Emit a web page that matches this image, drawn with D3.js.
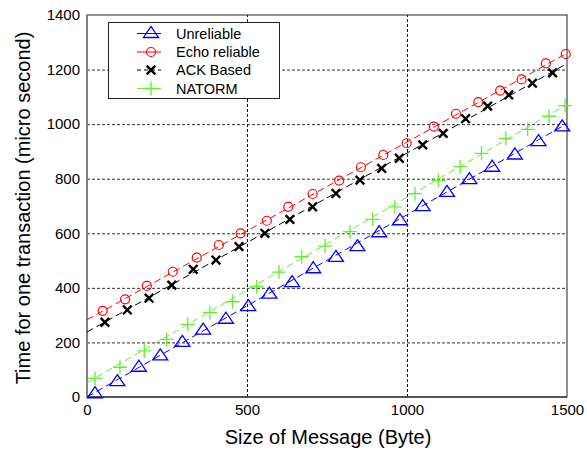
<!DOCTYPE html>
<html>
<head>
<meta charset="utf-8">
<script src="https://cdn.jsdelivr.net/npm/d3@7"></script>
<style>
  html, body { margin: 0; padding: 0; background: #fff; }
  svg { display: block; }
  text { font-family: "Liberation Sans", Arial, sans-serif; fill: #000; }
</style>
</head>
<body>
<svg id="chart" width="587" height="450"></svg>
<script>
// ---- data ----
const xTicks = [0, 500, 1000, 1500];
const yTicks = [0, 200, 400, 600, 800, 1000, 1200, 1400];
const seriesNames = ["Unreliable", "Echo reliable", "ACK Based", "NATORM"];

// Unreliable (blue triangles)
const unreliableX = [25, 95, 162, 229, 298, 363, 434, 504, 570, 641, 707, 778, 845, 913, 978, 1049, 1125, 1195, 1266, 1337, 1411, 1485];
const unreliableY = [12, 56, 109, 151, 200, 245, 285, 331, 377, 419, 470, 512, 551, 602, 646, 698, 750, 797, 842, 887, 936, 990];
// Echo reliable (red circles)
const echoX = [49, 119, 187, 268, 343, 412, 480, 562, 629, 705, 788, 856, 926, 999, 1084, 1153, 1223, 1291, 1358, 1434, 1496];
const echoY = [316, 358, 407, 459, 511, 557, 600, 646, 697, 744, 793, 842, 887, 930, 991, 1038, 1081, 1123, 1164, 1223, 1257];
// ACK Based (black crosses)
const ackX = [56, 126, 194, 265, 332, 403, 475, 556, 634, 705, 778, 853, 921, 976, 1049, 1113, 1183, 1252, 1318, 1392, 1455];
const ackY = [274, 319, 362, 410, 468, 502, 551, 600, 651, 697, 746, 795, 838, 875, 924, 966, 1020, 1066, 1107, 1150, 1188];
// NATORM (green pluses)
const natormX = [25, 103, 179, 249, 315, 384, 455, 530, 600, 671, 744, 822, 893, 962, 1025, 1098, 1166, 1233, 1309, 1377, 1444, 1494];
const natormY = [68, 109, 169, 211, 266, 309, 349, 404, 458, 514, 553, 606, 651, 697, 745, 793, 844, 893, 948, 981, 1029, 1068];

// trend lines (value at x = 0 and x = 1500)
const lineX = [0, 1500];
const unreliableLine = [0, 1002];
const echoLine = [283, 1260];
const ackLine = [238, 1222];
const natormLine = [52, 1072];

// ---- drawing ----
const svg = d3.select("#chart");
svg.append("rect").attr("width", 587).attr("height", 450).attr("fill", "#fff");

const x = d3.scaleLinear().domain([0, 1500]).range([87, 567]);
const y = d3.scaleLinear().domain([0, 1400]).range([397, 15]);

const colors = { blue: "#0000ff", red: "#ff0000", black: "#000000", green: "#66ee33" };

// grid
const gridH = svg.append("g").attr("transform", `translate(${x(0)},0)`)
  .call(d3.axisLeft(y).tickValues(yTicks.filter(v => v > 0 && v < 1400)).tickSize(-(x(1500) - x(0))).tickFormat(""));
gridH.select(".domain").remove();
gridH.selectAll("line").attr("stroke", "#333").attr("stroke-dasharray", "3,2").attr("stroke-width", 1);

const gridV = svg.append("g").attr("transform", `translate(0,${y(0)})`)
  .call(d3.axisBottom(x).tickValues(xTicks.filter(v => v > 0 && v < 1500)).tickSize(-(y(0) - y(1400))).tickFormat(""));
gridV.select(".domain").remove();
gridV.selectAll("line").attr("stroke", "#111").attr("stroke-dasharray", "3,2").attr("stroke-width", 1);

// frame
svg.append("rect")
  .attr("x", x(0)).attr("y", y(1400))
  .attr("width", x(1500) - x(0)).attr("height", y(0) - y(1400))
  .attr("fill", "none").attr("stroke", "#222").attr("stroke-width", 1);
svg.append("line").attr("x1", x(0)).attr("x2", x(0)).attr("y1", y(1400)).attr("y2", y(0))
  .attr("stroke", "#808080").attr("stroke-width", 2);
svg.append("line").attr("x1", x(0)).attr("x2", x(1500)).attr("y1", y(0)).attr("y2", y(0))
  .attr("stroke", "#444").attr("stroke-width", 1.5);

// axes labels
const axL = svg.append("g").attr("transform", `translate(${x(0)},0)`)
  .call(d3.axisLeft(y).tickValues(yTicks).tickSize(0).tickPadding(7).tickFormat(d3.format("d")));
axL.select(".domain").remove();
axL.selectAll("text").style("font-size", "15px").style("font-family", "Liberation Sans, Arial, sans-serif");

const axB = svg.append("g").attr("transform", `translate(0,${y(0)})`)
  .call(d3.axisBottom(x).tickValues(xTicks).tickSize(0).tickPadding(7).tickFormat(d3.format("d")));
axB.select(".domain").remove();
axB.selectAll("text").style("font-size", "15px").style("font-family", "Liberation Sans, Arial, sans-serif");

svg.append("text").attr("x", 328).attr("y", 444).attr("text-anchor", "middle")
  .style("font-size", "20px").text("Size of Message (Byte)");
svg.append("text").attr("transform", "translate(30,208) rotate(-90)").attr("text-anchor", "middle")
  .style("font-size", "20px").text("Time for one transaction (micro second)");

// markers
function triPath(cx, cy) {
  return `M${cx - 7.5},${cy + 4} L${cx + 7.5},${cy + 4} L${cx},${cy - 7} Z`;
}
function drawMarker(g, kind, cx, cy, color) {
  if (kind === "tri") {
    g.append("path").attr("d", triPath(cx, cy)).attr("fill", "none").attr("stroke", color).attr("stroke-width", 1.3);
  } else if (kind === "circ") {
    g.append("circle").attr("cx", cx).attr("cy", cy).attr("r", 4.5).attr("fill", "none").attr("stroke", color).attr("stroke-width", 1.2);
  } else if (kind === "x") {
    const s = 4.3;
    g.append("path").attr("d", `M${cx - s},${cy - s} L${cx + s},${cy + s} M${cx - s},${cy + s} L${cx + s},${cy - s}`)
      .attr("stroke", color).attr("stroke-width", 2.4).attr("fill", "none");
  } else if (kind === "plus") {
    const s = 7;
    g.append("path").attr("d", `M${cx},${cy - s} L${cx},${cy + s} M${cx - s},${cy} L${cx + s},${cy}`)
      .attr("stroke", color).attr("stroke-width", 1.3).attr("fill", "none");
  }
}

const series = [
  { xs: unreliableX, ys: unreliableY, line: unreliableLine, color: colors.blue, kind: "tri" },
  { xs: echoX, ys: echoY, line: echoLine, color: colors.red, kind: "circ" },
  { xs: ackX, ys: ackY, line: ackLine, color: colors.black, kind: "x" },
  { xs: natormX, ys: natormY, line: natormLine, color: colors.green, kind: "plus" }
];

const lineGen = d3.line().x(d => x(d[0])).y(d => y(d[1]));
const plot = svg.append("g");
series.forEach(s => {
  plot.append("path").datum(lineX.map((v, i) => [v, s.line[i]]))
    .attr("d", lineGen).attr("fill", "none").attr("stroke", s.color)
    .attr("stroke-width", 1).attr("stroke-dasharray", "7,4");
  const g = plot.append("g");
  s.xs.forEach((v, i) => drawMarker(g, s.kind, x(v), y(s.ys[i]), s.color));
});

// legend
const lg = svg.append("g");
lg.append("rect").attr("x", 108.5).attr("y", 22.5).attr("width", 171).attr("height", 76)
  .attr("fill", "#fff").attr("stroke", "#222").attr("stroke-width", 1);
const legRows = [33.5, 52, 70, 88.5];
series.forEach((s, i) => {
  const ly = legRows[i];
  const ln = lg.append("line").attr("x1", 137).attr("x2", 161).attr("y1", ly).attr("y2", ly)
    .attr("stroke", s.color).attr("stroke-width", 1);
  if (s.kind === "x") ln.attr("stroke-dasharray", "4,3");
  drawMarker(lg, s.kind, 151, ly, s.color);
  lg.append("text").attr("x", 176).attr("y", ly + 5).style("font-size", "14.5px").text(seriesNames[i]);
});
</script>
</body>
</html>
